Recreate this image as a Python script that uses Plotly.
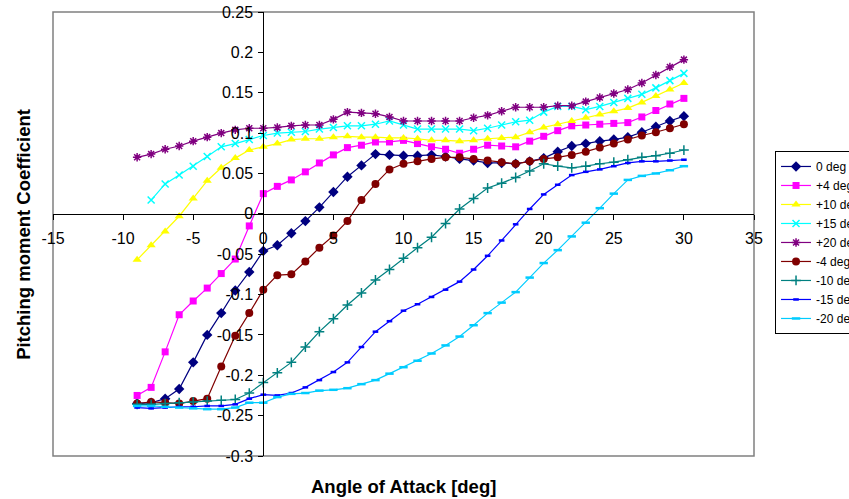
import plotly.graph_objects as go

angles = list(range(-9, 31))
angles_p15 = list(range(-8, 31))

cm_0 = [-0.235, -0.234, -0.229, -0.217, -0.184, -0.150, -0.123, -0.095, -0.072, -0.046,
        -0.039, -0.024, -0.009, 0.008, 0.027, 0.046, 0.060, 0.074, 0.073, 0.072,
        0.072, 0.073, 0.071, 0.068, 0.066, 0.063, 0.063, 0.062, 0.065, 0.069,
        0.077, 0.084, 0.087, 0.090, 0.092, 0.095, 0.101, 0.108, 0.115, 0.121]
cm_p4 = [-0.225, -0.215, -0.171, -0.125, -0.108, -0.092, -0.074, -0.056, -0.015, 0.025,
         0.034, 0.042, 0.052, 0.063, 0.073, 0.082, 0.085, 0.089, 0.089, 0.091,
         0.087, 0.083, 0.080, 0.075, 0.080, 0.085, 0.084, 0.083, 0.090, 0.096,
         0.103, 0.109, 0.110, 0.111, 0.112, 0.113, 0.120, 0.128, 0.136, 0.143]
cm_p10 = [-0.057, -0.039, -0.022, -0.003, 0.019, 0.041, 0.057, 0.069, 0.079, 0.083,
          0.087, 0.092, 0.093, 0.093, 0.095, 0.096, 0.095, 0.095, 0.094, 0.094,
          0.093, 0.091, 0.091, 0.090, 0.091, 0.093, 0.094, 0.095, 0.101, 0.107,
          0.111, 0.115, 0.119, 0.123, 0.127, 0.131, 0.138, 0.146, 0.154, 0.162]
cm_p15 = [0.017, 0.037, 0.048, 0.059, 0.071, 0.083, 0.087, 0.092, 0.097,
          0.100, 0.101, 0.102, 0.105, 0.107, 0.109, 0.109, 0.111, 0.115, 0.110,
          0.105, 0.105, 0.105, 0.105, 0.103, 0.106, 0.110, 0.114, 0.116, 0.126,
          0.133, 0.133, 0.129, 0.133, 0.138, 0.143, 0.148, 0.156, 0.165, 0.174]
cm_p20 = [0.070, 0.074, 0.080, 0.084, 0.090, 0.095, 0.100, 0.104, 0.106, 0.106,
          0.107, 0.109, 0.110, 0.110, 0.117, 0.126, 0.125, 0.124, 0.120, 0.115,
          0.115, 0.115, 0.115, 0.115, 0.119, 0.122, 0.127, 0.132, 0.132, 0.132,
          0.134, 0.134, 0.139, 0.144, 0.149, 0.154, 0.162, 0.172, 0.182, 0.191]
cm_m4 = [-0.235, -0.233, -0.234, -0.235, -0.232, -0.229, -0.189, -0.151, -0.123, -0.094,
         -0.076, -0.075, -0.059, -0.042, -0.027, -0.009, 0.017, 0.037, 0.055, 0.062,
         0.065, 0.068, 0.070, 0.070, 0.068, 0.066, 0.064, 0.062, 0.065, 0.068,
         0.070, 0.073, 0.077, 0.082, 0.087, 0.092, 0.097, 0.101, 0.106, 0.111]
cm_m10 = [-0.236, -0.236, -0.235, -0.234, -0.233, -0.232, -0.231, -0.230, -0.222, -0.209,
          -0.197, -0.184, -0.165, -0.146, -0.130, -0.113, -0.098, -0.082, -0.069, -0.055,
          -0.042, -0.029, -0.012, 0.006, 0.019, 0.032, 0.038, 0.045, 0.053, 0.062,
          0.059, 0.057, 0.059, 0.062, 0.064, 0.067, 0.070, 0.072, 0.075, 0.079]
cm_m15 = [-0.240, -0.241, -0.240, -0.239, -0.239, -0.238, -0.238, -0.236, -0.229, -0.224,
          -0.225, -0.222, -0.215, -0.206, -0.196, -0.184, -0.165, -0.146, -0.133, -0.120,
          -0.112, -0.103, -0.094, -0.084, -0.069, -0.052, -0.033, -0.013, 0.006, 0.024,
          0.036, 0.048, 0.052, 0.055, 0.059, 0.063, 0.065, 0.065, 0.066, 0.067]
cm_m20 = [-0.238, -0.238, -0.239, -0.240, -0.241, -0.242, -0.242, -0.240, -0.234, -0.234,
          -0.227, -0.223, -0.222, -0.219, -0.218, -0.216, -0.211, -0.206, -0.198, -0.190,
          -0.182, -0.173, -0.163, -0.152, -0.138, -0.123, -0.110, -0.097, -0.079, -0.061,
          -0.045, -0.028, -0.011, 0.007, 0.025, 0.042, 0.047, 0.050, 0.054, 0.059]

x_ticks = [-15, -10, -5, 0, 5, 10, 15, 20, 25, 30, 35]
x_tick_labels = ["-15", "-10", "-5", "0", "5", "10", "15", "20", "25", "30", "35"]
y_ticks = [-0.3, -0.25, -0.2, -0.15, -0.1, -0.05, 0, 0.05, 0.1, 0.15, 0.2, 0.25]
y_tick_labels = ["-0.3", "-0.25", "-0.2", "-0.15", "-0.1", "-0.05", "0", "0.05", "0.1", "0.15", "0.2", "0.25"]

series = [
    ("0 deg", angles, cm_0, "#000080", "diamond", 8, False),
    ("+4 deg", angles, cm_p4, "#FF00FF", "square", 7, False),
    ("+10 deg", angles, cm_p10, "#FFFF00", "triangle-up", 8, False),
    ("+15 deg", angles_p15, cm_p15, "#00FFFF", "x-thin", 7, True),
    ("+20 deg", angles, cm_p20, "#800080", "asterisk", 7, True),
    ("-4 deg", angles, cm_m4, "#800000", "circle", 8, False),
    ("-10 deg", angles, cm_m10, "#008080", "cross-thin", 7, True),
    ("-15 deg", angles, cm_m15, "#0000FF", "line-ew", 4, True),
    ("-20 deg", angles, cm_m20, "#00CCFF", "line-ew", 6, True),
]

fig = go.Figure()
for name, xs, ys, color, symbol, size, is_line in series:
    marker = dict(symbol=symbol, size=size, color=color)
    if is_line:
        marker["line"] = dict(color=color, width=1.5 if symbol != "line-ew" else 2.5)
    else:
        marker["line"] = dict(width=0)
    fig.add_trace(go.Scatter(x=xs, y=ys, name=name, mode="lines+markers",
                             line=dict(color=color, width=1.2), marker=marker))

x0_frac = (0 - (-15)) / (35 - (-15))
y0_frac = (0 - (-0.3)) / (0.25 - (-0.3))

fig.update_layout(
    width=849, height=499,
    margin=dict(l=53, r=95, t=12, b=43, autoexpand=False),
    paper_bgcolor="white", plot_bgcolor="white",
    font=dict(family="Arial, Liberation Sans, sans-serif", color="black"),
    xaxis=dict(range=[-15, 35], tickvals=x_ticks, ticktext=x_tick_labels,
               showgrid=False, zeroline=False, showline=True, linecolor="#000000", linewidth=1,
               ticks="outside", ticklen=5, tickcolor="#000000", tickfont=dict(size=16),
               anchor="free", position=y0_frac, ticklabelstandoff=5),
    yaxis=dict(range=[-0.3, 0.25], tickvals=y_ticks, ticktext=y_tick_labels,
               showgrid=False, zeroline=False, showline=True, linecolor="#000000", linewidth=1,
               ticks="outside", ticklen=5, tickcolor="#000000", tickfont=dict(size=16),
               anchor="free", position=x0_frac, ticklabelstandoff=2),
    legend=dict(x=1.03, y=0.687, xanchor="left", yanchor="top",
                bordercolor="#000000", borderwidth=1, bgcolor="white",
                font=dict(size=12, family="Arial, Liberation Sans, sans-serif"),
                tracegroupgap=0, itemwidth=30),
    shapes=[dict(type="rect", xref="paper", yref="paper", x0=0, y0=0, x1=1, y1=1,
                 line=dict(color="#808080", width=1.5), layer="below")],
    annotations=[
        dict(text="<b>Angle of Attack [deg]</b>", xref="paper", yref="paper",
             x=0.5, y=-0.068, xanchor="center", yanchor="middle", showarrow=False,
             font=dict(size=18.5)),
        dict(text="<b>Pitching moment Coefficient</b>", xref="paper", yref="paper",
             x=-0.043, y=0.5, xanchor="center", yanchor="middle", showarrow=False,
             textangle=-90, font=dict(size=18.5)),
    ],
)

fig.write_html("out.html")
